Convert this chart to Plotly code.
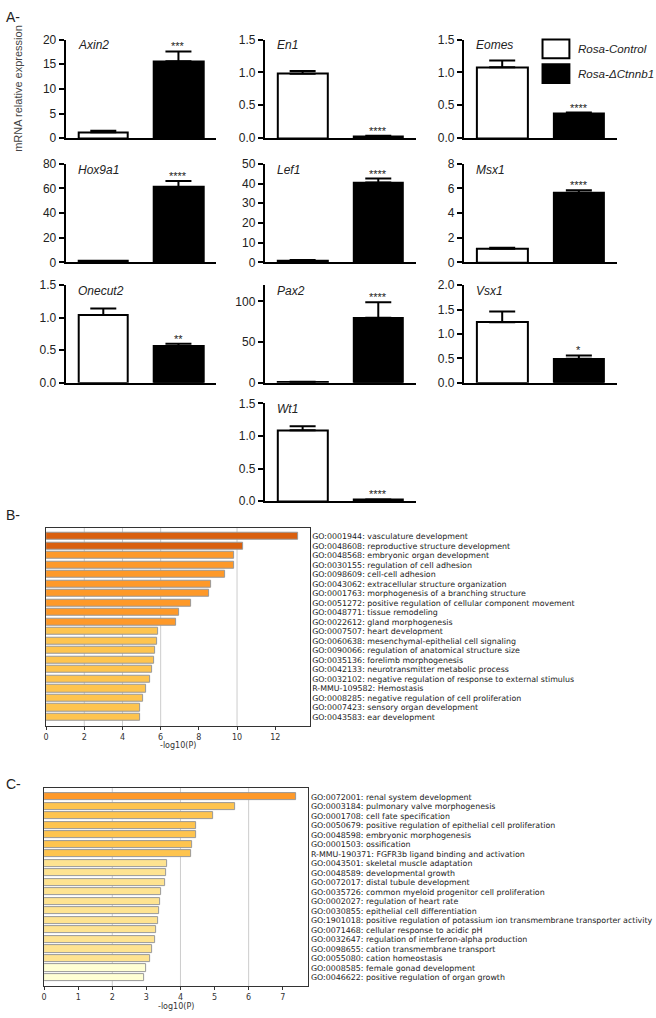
import plotly.graph_objects as go

# ---------------- Panel A data ----------------
genes = ["Axin2", "En1", "Eomes", "Hox9a1", "Lef1", "Msx1", "Onecut2", "Pax2", "Vsx1", "Wt1"]
control_mean = [1.2, 0.98, 1.08, 1.0, 1.0, 1.1, 1.04, 0.8, 1.24, 1.09]
control_err = [0.3, 0.04, 0.10, 0.2, 0.2, 0.10, 0.10, 0.3, 0.22, 0.06]
ko_mean = [15.6, 0.03, 0.37, 61.0, 40.5, 5.65, 0.56, 80.0, 0.49, 0.02]
ko_err = [2.0, 0.005, 0.02, 5.0, 2.0, 0.20, 0.04, 19.0, 0.07, 0.005]
signif = ["***", "****", "****", "****", "****", "****", "**", "****", "*", "****"]
y_max = [20, 1.5, 1.5, 80, 50, 8, 1.5, 120, 2.0, 1.5]
y_step = [5, 0.5, 0.5, 20, 10, 2, 0.5, 50, 0.5, 0.5]
groups = ["Rosa-Control", "Rosa-ΔCtnnb1"]

# ---------------- Panel B data ----------------
b_terms = [
    "GO:0001944: vasculature development",
    "GO:0048608: reproductive structure development",
    "GO:0048568: embryonic organ development",
    "GO:0030155: regulation of cell adhesion",
    "GO:0098609: cell-cell adhesion",
    "GO:0043062: extracellular structure organization",
    "GO:0001763: morphogenesis of a branching structure",
    "GO:0051272: positive regulation of cellular component movement",
    "GO:0048771: tissue remodeling",
    "GO:0022612: gland morphogenesis",
    "GO:0007507: heart development",
    "GO:0060638: mesenchymal-epithelial cell signaling",
    "GO:0090066: regulation of anatomical structure size",
    "GO:0035136: forelimb morphogenesis",
    "GO:0042133: neurotransmitter metabolic process",
    "GO:0032102: negative regulation of response to external stimulus",
    "R-MMU-109582: Hemostasis",
    "GO:0008285: negative regulation of cell proliferation",
    "GO:0007423: sensory organ development",
    "GO:0043583: ear development",
]
b_values = [13.18, 10.3, 9.83, 9.83, 9.36, 8.66, 8.52, 7.62, 6.97, 6.8,
            5.86, 5.81, 5.70, 5.64, 5.53, 5.44, 5.22, 5.10, 4.94, 4.90]

# ---------------- Panel C data ----------------
c_terms = [
    "GO:0072001: renal system development",
    "GO:0003184: pulmonary valve morphogenesis",
    "GO:0001708: cell fate specification",
    "GO:0050679: positive regulation of epithelial cell proliferation",
    "GO:0048598: embryonic morphogenesis",
    "GO:0001503: ossification",
    "R-MMU-190371: FGFR3b ligand binding and activation",
    "GO:0043501: skeletal muscle adaptation",
    "GO:0048589: developmental growth",
    "GO:0072017: distal tubule development",
    "GO:0035726: common myeloid progenitor cell proliferation",
    "GO:0002027: regulation of heart rate",
    "GO:0030855: epithelial cell differentiation",
    "GO:1901018: positive regulation of potassium ion transmembrane transporter activity",
    "GO:0071468: cellular response to acidic pH",
    "GO:0032647: regulation of interferon-alpha production",
    "GO:0098655: cation transmembrane transport",
    "GO:0055080: cation homeostasis",
    "GO:0008585: female gonad development",
    "GO:0046622: positive regulation of organ growth",
]
c_values = [7.38, 5.61, 4.96, 4.45, 4.45, 4.34, 4.32, 3.62, 3.59, 3.56,
            3.42, 3.39, 3.36, 3.33, 3.29, 3.27, 3.18, 3.12, 2.98, 2.92]

# ---------------- styling / layout helpers ----------------
W, H = 656, 1018
def fx(p): return p / W
def fy(p): return 1 - p / H

SANS = "Liberation Sans, Arial, sans-serif"
DV = "DejaVu Sans, sans-serif"

def bin_color(v):
    if v >= 10: return "#D95F0E"
    if v >= 6: return "#FE9929"
    if v >= 4: return "#FEC44F"
    if v >= 3: return "#FEE391"
    return "#FFFFD4"

cols = [(63, 214), (263, 415), (463, 617)]
rows = [(33, 133), (159, 259), (282, 381), (402, 501)]
grid_pos = [(0, 0), (0, 1), (0, 2), (1, 0), (1, 1), (1, 2), (2, 0), (2, 1), (2, 2), (3, 1)]

fig = go.Figure()
layout = {}
annotations = []
shapes = []

for i, g in enumerate(genes):
    n = i + 1
    xa, ya = f"x{n}", f"y{n}"
    r, c = grid_pos[i]
    (x0, x1), (y0, y1) = cols[c], rows[r]
    fig.add_trace(go.Bar(
        x=[0, 1], y=[control_mean[i], ko_mean[i]], width=0.66,
        marker=dict(color=["white", "black"], line=dict(color="black", width=2)),
        error_y=dict(type="data", symmetric=False, array=[control_err[i], ko_err[i]],
                     arrayminus=[0, 0], color="black", thickness=2, width=13),
        xaxis=xa, yaxis=ya, showlegend=False, hoverinfo="skip"))
    dec = y_step[i] < 1
    nt = int(round(y_max[i] / y_step[i]))
    tv = [k * y_step[i] for k in range(nt + 1)]
    layout[f"xaxis{n}"] = dict(domain=[fx(x0), fx(x1)], range=[-0.5, 1.5],
                               showline=True, linecolor="black", linewidth=2,
                               showticklabels=False, ticks="", showgrid=False,
                               zeroline=False, anchor=ya)
    layout[f"yaxis{n}"] = dict(domain=[fy(y1), fy(y0)], range=[0, y_max[i]],
                               tickvals=tv, tickformat=".1f" if dec else "d",
                               ticks="outside", ticklen=5, tickwidth=2, tickcolor="black",
                               showline=True, linecolor="black", linewidth=2,
                               showgrid=False, zeroline=False, anchor=xa,
                               tickfont=dict(family=SANS, size=12, color="#222"))
    annotations.append(dict(x=1, y=ko_mean[i] + ko_err[i], xref=xa, yref=ya,
                            text=signif[i], showarrow=False, xanchor="center",
                            yanchor="bottom", yshift=-3,
                            font=dict(family=SANS, size=11, color="#222")))
    annotations.append(dict(x=fx(x0 + 10), y=fy(y0 + 6), xref="paper", yref="paper",
                            text=f"<i>{g}</i>", showarrow=False, xanchor="left",
                            yanchor="middle", font=dict(family=SANS, size=12, color="#222")))

# legend for panel A
for k, (grp, col, yt, yb) in enumerate(zip(groups, ["white", "black"], [33, 58], [52, 77])):
    shapes.append(dict(type="rect", xref="paper", yref="paper", x0=fx(542), x1=fx(569),
                       y0=fy(yb), y1=fy(yt), fillcolor=col, line=dict(color="black", width=2)))
    annotations.append(dict(x=fx(576), y=fy((yt + yb) / 2), xref="paper", yref="paper",
                            text=f"<i>{grp}</i>", showarrow=False, xanchor="left",
                            yanchor="middle", font=dict(family=SANS, size=11.6, color="#222")))

annotations.append(dict(x=fx(15), y=fy(82), xref="paper", yref="paper",
                        text="mRNA relative expression", textangle=-90, showarrow=False,
                        xanchor="center", yanchor="middle",
                        font=dict(family=SANS, size=11, color="#444")))

for lab, yy in [("A-", 10), ("B-", 515), ("C-", 788)]:
    annotations.append(dict(x=fx(1), y=fy(yy), xref="paper", yref="paper", text=lab,
                            showarrow=False, xanchor="left", yanchor="middle",
                            font=dict(family=SANS, size=14, color="#222")))

# enrichment panels
def enrich(n, terms, vals, box, xmax, xticks, gridvals):
    xa, ya = f"x{n}", f"y{n}"
    (x0, x1, y0, y1) = box
    idx = list(range(len(terms)))
    fig.add_trace(go.Bar(
        x=vals, y=idx, orientation="h", width=0.76,
        marker=dict(color=[bin_color(v) for v in vals], line=dict(color="#999999", width=1)),
        xaxis=xa, yaxis=ya, showlegend=False, hoverinfo="skip"))
    layout[f"xaxis{n}"] = dict(domain=[fx(x0), fx(x1)], range=[0, xmax], tickvals=xticks,
                               ticks="outside", ticklen=3, tickcolor="#333",
                               showline=True, mirror=True, linecolor="#333", linewidth=1,
                               showgrid=False, zeroline=False, anchor=ya,
                               tickfont=dict(family=DV, size=8, color="#333"))
    layout[f"yaxis{n}"] = dict(domain=[fy(y1), fy(y0)], range=[len(terms) - 1 + 0.93, -0.93],
                               tickvals=idx, ticktext=terms, side="right", ticks="",
                               showline=True, mirror=True, linecolor="#333", linewidth=1,
                               showgrid=False, zeroline=False, anchor=xa,
                               ticklabelstandoff=0,
                               tickfont=dict(family=DV, size=7.9, color="#222"))
    for gv in gridvals:
        shapes.append(dict(type="line", xref=xa, yref=f"{ya} domain", x0=gv, x1=gv,
                           y0=0, y1=1, layer="below", line=dict(color="#cccccc", width=1)))
    annotations.append(dict(x=fx((x0 + x1) / 2), y=fy(y1 + 20), xref="paper", yref="paper",
                            text="-log10(P)", showarrow=False, xanchor="center",
                            yanchor="middle", font=dict(family=DV, size=8, color="#333")))

enrich(11, b_terms, b_values, (43.3, 308, 528, 729), 13.8, [0, 2, 4, 6, 8, 10, 12], [2, 4, 6, 10])
enrich(12, c_terms, c_values, (41.3, 306.7, 792, 993), 7.75, [0, 1, 2, 3, 4, 5, 6, 7], [2, 4, 6])

fig.update_layout(**layout)
fig.update_layout(width=W, height=H, margin=dict(l=0, r=0, t=0, b=0),
                  paper_bgcolor="white", plot_bgcolor="white",
                  annotations=annotations, shapes=shapes, showlegend=False,
                  bargap=0)
fig.write_html("out.html", config={"displayModeBar": False},
               post_script="document.body.style.margin='0px';document.body.style.overflow='hidden';")
